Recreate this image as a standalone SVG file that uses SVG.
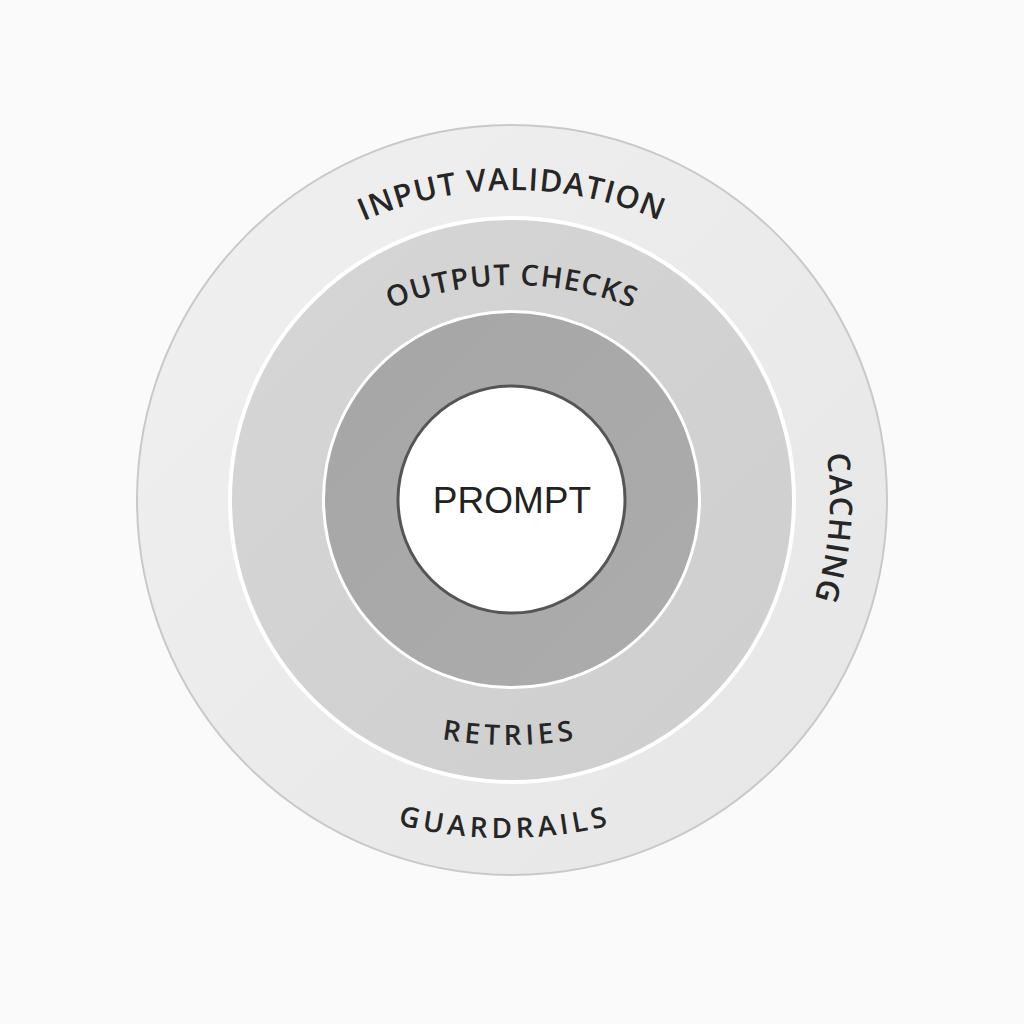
<svg xmlns="http://www.w3.org/2000/svg" width="1024" height="1024" viewBox="0 0 1024 1024">
  <defs>
    <linearGradient id="gOuter" x1="0" y1="0" x2="1" y2="1">
      <stop offset="0" stop-color="#f0f0f0"/>
      <stop offset="1" stop-color="#e6e6e6"/>
    </linearGradient>
    <linearGradient id="gMid" x1="0" y1="0" x2="1" y2="1">
      <stop offset="0" stop-color="#d6d6d6"/>
      <stop offset="1" stop-color="#cecece"/>
    </linearGradient>
    <linearGradient id="gInner" x1="0" y1="0" x2="1" y2="1">
      <stop offset="0" stop-color="#a6a6a6"/>
      <stop offset="1" stop-color="#acacac"/>
    </linearGradient>
    <path id="pInput" d="M 274.2 276.6 A 370 370 0 0 1 749.8 276.6"/>
    <path id="pOutput" d="M 282.2 380.2 A 325 325 0 0 1 741.8 380.2"/>
    <path id="pCaching" d="M 755.6 295.6 A 318 318 0 0 1 716.4 743.6"/>
    <path id="pRetries" d="M 310 691.4 A 400 400 0 0 0 710 691.4"/>
    <path id="pGuard" d="M 252.6 758.4 A 440 440 0 0 0 757.4 758.4"/>
    <style>
      .lbl { font-family: "Open Sans", "Liberation Sans", sans-serif; font-weight: 600; fill: #262626; }
      .big { font-size: 31px; letter-spacing: 1.2px; }
      .mid { font-size: 29px; letter-spacing: 1.2px; }
      .sm { font-size: 28px; letter-spacing: 4.3px; }
    </style>
  </defs>
  <rect width="1024" height="1024" fill="#fafafa"/>
  <g id="guardrails">
    <circle cx="512" cy="500" r="375" fill="url(#gOuter)" stroke="#c9c9c9" stroke-width="2"/>
    <text class="lbl big"><textPath href="#pInput" startOffset="50%" text-anchor="middle">INPUT VALIDATION</textPath></text>
    <text class="lbl big"><textPath href="#pCaching" startOffset="50%" text-anchor="middle">CACHING</textPath></text>
    <text class="lbl sm"><textPath href="#pGuard" startOffset="50%" text-anchor="middle">GUARDRAILS</textPath></text>
  </g>
  <g id="output-checks">
    <circle cx="512" cy="500" r="282" fill="url(#gMid)" stroke="#ffffff" stroke-width="4"/>
    <text class="lbl mid"><textPath href="#pOutput" startOffset="50%" text-anchor="middle">OUTPUT CHECKS</textPath></text>
    <text class="lbl sm"><textPath href="#pRetries" startOffset="50%" text-anchor="middle">RETRIES</textPath></text>
  </g>
  <g id="ring">
    <circle cx="511.5" cy="499.5" r="188" fill="url(#gInner)" stroke="#ffffff" stroke-width="3"/>
  </g>
  <g id="prompt">
    <circle cx="511.5" cy="499.5" r="113.5" fill="#ffffff" stroke="#555555" stroke-width="3"/>
    <text x="512" y="513" text-anchor="middle" font-family="Liberation Sans, Arial, sans-serif" font-size="37" fill="#222222">PROMPT</text>
  </g>
</svg>
